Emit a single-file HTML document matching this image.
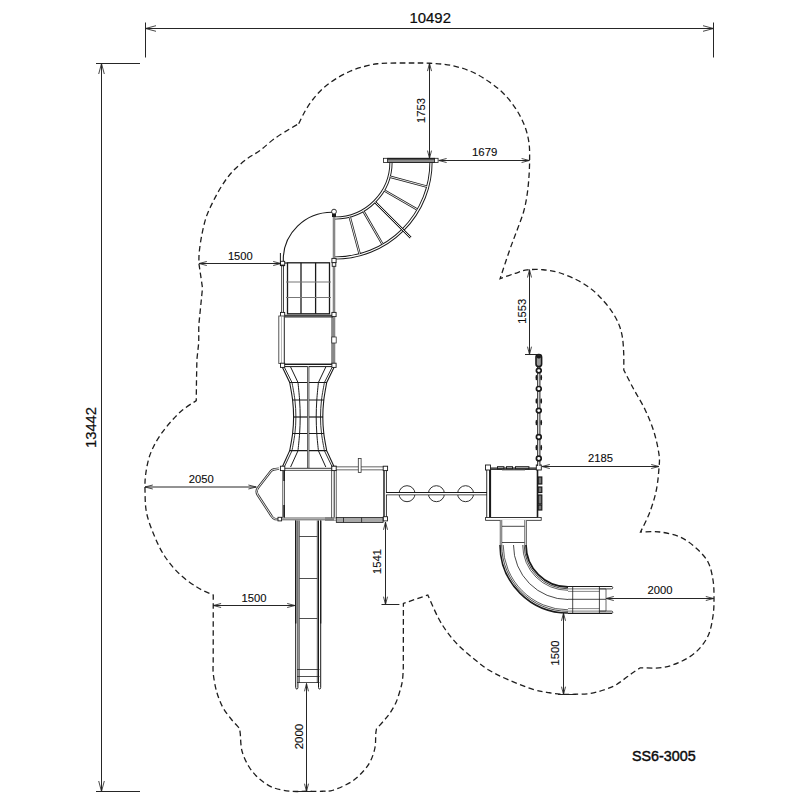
<!DOCTYPE html>
<html><head><meta charset="utf-8"><style>
html,body{margin:0;padding:0;background:#fff;width:800px;height:800px;overflow:hidden}
svg{display:block}
text{font-family:"Liberation Sans",sans-serif;fill:#0c0c0c;stroke:#0c0c0c}
.tx{opacity:0.995}
</style></head><body>
<svg width="800" height="800" viewBox="0 0 800 800">
<rect width="800" height="800" fill="#fff"/>
<line x1="145.5" y1="22.5" x2="145.5" y2="57.5" stroke="#262626" stroke-width="1"/>
<line x1="713.5" y1="22.5" x2="713.5" y2="57.5" stroke="#262626" stroke-width="1"/>
<line x1="145.5" y1="28.5" x2="713.5" y2="28.5" stroke="#262626" stroke-width="1"/>
<path d="M156 25.7 L145.5 28.5 L156 31.3" fill="none" stroke="#262626" stroke-width="0.85"/>
<path d="M703 31.3 L713.5 28.5 L703 25.7" fill="none" stroke="#262626" stroke-width="0.85"/>
<line x1="96" y1="63.5" x2="140" y2="63.5" stroke="#262626" stroke-width="1"/>
<line x1="96" y1="791.5" x2="140" y2="791.5" stroke="#262626" stroke-width="1"/>
<line x1="101.5" y1="63.5" x2="101.5" y2="791.5" stroke="#262626" stroke-width="1"/>
<path d="M104.3 74 L101.5 63.5 L98.7 74" fill="none" stroke="#262626" stroke-width="0.85"/>
<path d="M98.7 781 L101.5 791.5 L104.3 781" fill="none" stroke="#262626" stroke-width="0.85"/>
<line x1="429.5" y1="63.3" x2="429.5" y2="158.4" stroke="#262626" stroke-width="1"/>
<path d="M431.5 71.1 L429.5 63.3 L427.5 71.1" fill="none" stroke="#262626" stroke-width="0.85"/>
<path d="M427.5 150.6 L429.5 158.4 L431.5 150.6" fill="none" stroke="#262626" stroke-width="0.85"/>
<line x1="438.8" y1="160.5" x2="529.4" y2="160.5" stroke="#262626" stroke-width="1"/>
<path d="M446.6 158.5 L438.8 160.5 L446.6 162.5" fill="none" stroke="#262626" stroke-width="0.85"/>
<path d="M521.6 162.5 L529.4 160.5 L521.6 158.5" fill="none" stroke="#262626" stroke-width="0.85"/>
<line x1="199" y1="263.5" x2="281" y2="263.5" stroke="#262626" stroke-width="1"/>
<path d="M206.8 261.5 L199 263.5 L206.8 265.5" fill="none" stroke="#262626" stroke-width="0.85"/>
<path d="M273.2 265.5 L281 263.5 L273.2 261.5" fill="none" stroke="#262626" stroke-width="0.85"/>
<line x1="525" y1="354.5" x2="538" y2="354.5" stroke="#262626" stroke-width="1"/>
<line x1="529.5" y1="269.7" x2="529.5" y2="354.5" stroke="#262626" stroke-width="1"/>
<path d="M531.5 277.5 L529.5 269.7 L527.5 277.5" fill="none" stroke="#262626" stroke-width="0.85"/>
<path d="M527.5 346.7 L529.5 354.5 L531.5 346.7" fill="none" stroke="#262626" stroke-width="0.85"/>
<line x1="145" y1="487" x2="256.2" y2="487" stroke="#262626" stroke-width="1"/>
<path d="M152.8 485 L145 487 L152.8 489" fill="none" stroke="#262626" stroke-width="0.85"/>
<path d="M248.4 489 L256.2 487 L248.4 485" fill="none" stroke="#262626" stroke-width="0.85"/>
<line x1="542" y1="466.5" x2="659" y2="466.5" stroke="#262626" stroke-width="1"/>
<path d="M549.8 464.5 L542 466.5 L549.8 468.5" fill="none" stroke="#262626" stroke-width="0.85"/>
<path d="M651.2 468.5 L659 466.5 L651.2 464.5" fill="none" stroke="#262626" stroke-width="0.85"/>
<line x1="381.5" y1="604.5" x2="399.4" y2="604.5" stroke="#262626" stroke-width="1"/>
<line x1="385.5" y1="522" x2="385.5" y2="604.5" stroke="#262626" stroke-width="1"/>
<path d="M387.5 529.8 L385.5 522 L383.5 529.8" fill="none" stroke="#262626" stroke-width="0.85"/>
<path d="M383.5 596.7 L385.5 604.5 L387.5 596.7" fill="none" stroke="#262626" stroke-width="0.85"/>
<line x1="213.3" y1="605.5" x2="295" y2="605.5" stroke="#262626" stroke-width="1"/>
<path d="M221.1 603.5 L213.3 605.5 L221.1 607.5" fill="none" stroke="#262626" stroke-width="0.85"/>
<path d="M287.2 607.5 L295 605.5 L287.2 603.5" fill="none" stroke="#262626" stroke-width="0.85"/>
<line x1="606" y1="598.5" x2="713.6" y2="598.5" stroke="#262626" stroke-width="1"/>
<path d="M613.8 596.5 L606 598.5 L613.8 600.5" fill="none" stroke="#262626" stroke-width="0.85"/>
<path d="M705.8 600.5 L713.6 598.5 L705.8 596.5" fill="none" stroke="#262626" stroke-width="0.85"/>
<line x1="558" y1="694.5" x2="576" y2="694.5" stroke="#262626" stroke-width="1"/>
<line x1="563.5" y1="613" x2="563.5" y2="694.5" stroke="#262626" stroke-width="1"/>
<path d="M565.5 620.8 L563.5 613 L561.5 620.8" fill="none" stroke="#262626" stroke-width="0.85"/>
<path d="M561.5 686.7 L563.5 694.5 L565.5 686.7" fill="none" stroke="#262626" stroke-width="0.85"/>
<line x1="295.5" y1="791.5" x2="315.5" y2="791.5" stroke="#262626" stroke-width="1"/>
<line x1="306.5" y1="683.5" x2="306.5" y2="791.5" stroke="#262626" stroke-width="1"/>
<path d="M308.5 691.3 L306.5 683.5 L304.5 691.3" fill="none" stroke="#262626" stroke-width="0.85"/>
<path d="M304.5 783.7 L306.5 791.5 L308.5 783.7" fill="none" stroke="#262626" stroke-width="0.85"/>
<text class="tx" x="430.2" y="23" font-size="15.3" text-anchor="middle" stroke-width="0.22" textLength="41.5" lengthAdjust="spacingAndGlyphs">10492</text>
<text class="tx" x="96.4" y="427.5" font-size="15.3" text-anchor="middle" stroke-width="0.22" transform="rotate(-90 96.4 427.5)" textLength="41.1" lengthAdjust="spacingAndGlyphs">13442</text>
<text class="tx" x="484.7" y="156.1" font-size="11.5" text-anchor="middle" stroke-width="0.12" textLength="25.4" lengthAdjust="spacingAndGlyphs">1679</text>
<text class="tx" x="240.3" y="259.9" font-size="11.5" text-anchor="middle" stroke-width="0.12" textLength="24.8" lengthAdjust="spacingAndGlyphs">1500</text>
<text class="tx" x="201.25" y="483.1" font-size="11.5" text-anchor="middle" stroke-width="0.12" textLength="25" lengthAdjust="spacingAndGlyphs">2050</text>
<text class="tx" x="600.6" y="462.25" font-size="11.5" text-anchor="middle" stroke-width="0.12" textLength="25" lengthAdjust="spacingAndGlyphs">2185</text>
<text class="tx" x="254" y="601.9" font-size="11.5" text-anchor="middle" stroke-width="0.12" textLength="25" lengthAdjust="spacingAndGlyphs">1500</text>
<text class="tx" x="660" y="594.4" font-size="11.5" text-anchor="middle" stroke-width="0.12" textLength="25" lengthAdjust="spacingAndGlyphs">2000</text>
<text class="tx" x="425.4" y="110.4" font-size="11.5" text-anchor="middle" stroke-width="0.12" transform="rotate(-90 425.4 110.4)" textLength="25" lengthAdjust="spacingAndGlyphs">1753</text>
<text class="tx" x="525.6" y="311.3" font-size="11.5" text-anchor="middle" stroke-width="0.12" transform="rotate(-90 525.6 311.3)" textLength="25" lengthAdjust="spacingAndGlyphs">1553</text>
<text class="tx" x="381.1" y="561.5" font-size="11.5" text-anchor="middle" stroke-width="0.12" transform="rotate(-90 381.1 561.5)" textLength="25" lengthAdjust="spacingAndGlyphs">1541</text>
<text class="tx" x="559.3" y="652.9" font-size="11.5" text-anchor="middle" stroke-width="0.12" transform="rotate(-90 559.3 652.9)" textLength="25" lengthAdjust="spacingAndGlyphs">1500</text>
<text class="tx" x="303.3" y="736.6" font-size="11.5" text-anchor="middle" stroke-width="0.12" transform="rotate(-90 303.3 736.6)" textLength="25.4" lengthAdjust="spacingAndGlyphs">2000</text>
<text class="tx" x="632" y="760.6" font-size="14.6" text-anchor="start" stroke-width="0.45" textLength="63.7" lengthAdjust="spacingAndGlyphs">SS6-3005</text>
<path d="M298.75 123.75C299.79 121.67 302.71 115.21 305 111.25C307.29 107.29 309.58 103.75 312.5 100C315.42 96.25 318.75 92.18 322.5 88.75C326.25 85.32 330.42 82.32 335 79.4C339.58 76.48 345 73.44 350 71.25C355 69.06 360.42 67.5 365 66.25C369.58 65 373.54 64.28 377.5 63.75C381.46 63.23 383.33 63.23 388.75 63.1C394.17 62.98 403.12 62.98 410 63C416.88 63.02 423.23 62.87 430 63.25C436.77 63.63 443.73 63.92 450.6 65.3C457.48 66.67 464.83 68.75 471.25 71.5C477.67 74.25 483.6 78.02 489.1 81.8C494.6 85.58 499.67 89.5 504.25 94.2C508.83 98.9 513.16 104.62 516.6 110C520.04 115.38 522.83 121 524.9 126.5C526.97 132 528.22 137.48 529 143C529.78 148.52 529.6 154.06 529.6 159.6C529.6 165.14 529.39 170.56 529 176.25C528.61 181.94 528.12 187.92 527.25 193.75C526.38 199.58 525.36 205.42 523.75 211.25C522.14 217.08 519.93 222.33 517.6 228.75C515.27 235.17 512.67 241.44 509.75 249.75C506.83 258.06 501.71 273.79 500.1 278.6C502.58 277.73 510.48 274.85 515 273.4C519.52 271.95 522.58 270.51 527.25 269.9C531.92 269.29 537.62 269.27 543 269.75C548.38 270.23 553.75 271 559.5 272.75C565.25 274.5 572 277.38 577.5 280.25C583 283.12 588 286.38 592.5 290C597 293.62 601 298 604.5 302C608 306 611 310 613.5 314C616 318 618 322 619.5 326C621 330 621.8 333.5 622.5 338C623.2 342.5 623.48 347.67 623.7 353C623.92 358.33 623.78 367.17 623.8 370C625.46 373.21 630.22 382.67 633.75 389.25C637.28 395.83 641.62 402.38 645 409.5C648.38 416.62 651.67 424.5 654 432C656.33 439.5 658.17 448.5 659 454.5C659.83 460.5 659.46 462 659 468C658.54 474 657.83 483 656.25 490.5C654.67 498 652.12 506.08 649.5 513C646.88 519.92 642 528.83 640.5 532C643.75 532 653.42 531.17 660 532C666.58 532.83 674 534.33 680 537C686 539.67 691.33 543.83 696 548C700.67 552.17 705.17 556.67 708 562C710.83 567.33 712 574 713 580C714 586 714 592 714 598C714 604 714 609.67 713 616C712 622.33 710.83 630 708 636C705.17 642 700.67 647.67 696 652C691.33 656.33 685.67 659.4 680 662C674.33 664.6 668.62 666.63 662 667.6C655.38 668.57 643.88 667.77 640.25 667.8C638.88 668.71 634.88 671.22 632 673.25C629.12 675.28 626 677.88 623 680C620 682.12 617.5 684.25 614 686C610.5 687.75 606 689.25 602 690.5C598 691.75 594.5 692.88 590 693.5C585.5 694.12 579.5 694.12 575 694.25C570.5 694.38 567.25 694.5 563 694.25C558.75 694 554.5 693.58 549.5 692.75C544.5 691.92 540 691.52 533 689.3C526 687.07 514.88 682.62 507.5 679.4C500.12 676.18 494.38 673.44 488.75 670C483.12 666.56 478.75 662.82 473.75 658.75C468.75 654.68 463.12 649.98 458.75 645.6C454.38 641.23 450.94 637.18 447.5 632.5C444.06 627.82 441.38 623.75 438.1 617.5C434.82 611.25 429.52 598.75 427.8 595L403.4 603.4L403.3 668C403.17 670 402.97 676.5 402.5 680C402.03 683.5 401.58 685.25 400.5 689C399.42 692.75 397.75 698.5 396 702.5C394.25 706.5 392 710 390 713C388 716 386.25 717.88 384 720.5C381.75 723.12 377.75 727.38 376.5 728.75C376.38 729.62 376 730.88 375.75 734C375.5 737.12 375.88 743 375 747.5C374.12 752 372.5 757 370.5 761C368.5 765 366.25 768 363 771.5C359.75 775 356 778.88 351 782C346 785.12 337.75 788.71 333 790.25C328.25 791.79 326.88 791.08 322.5 791.25C318.12 791.42 312 791.25 306.75 791.25C301.5 791.25 296.54 791.83 291 791.25C285.46 790.67 278.75 789.79 273.5 787.75C268.25 785.71 263.58 782.5 259.5 779C255.42 775.5 251.92 771.42 249 766.75C246.08 762.08 243.46 756.54 242 751C240.54 745.46 240.68 737.29 240.25 733.5C239.82 729.71 239.54 729.12 239.4 728.25C238.08 726.79 234.28 723 231.5 719.5C228.72 716 225.23 711.92 222.75 707.25C220.27 702.58 218.17 697.04 216.6 691.5C215.03 685.96 213.87 678.92 213.3 674C212.73 669.08 213.22 664 213.2 662L213.25 595C210.62 593.75 203.12 591 197.5 587.5C191.88 584 185 579.25 179.5 574C174 568.75 168.75 562.5 164.5 556C160.25 549.5 157 542.25 154 535C151 527.75 148 520 146.5 512.5C145 505 145.15 496.25 145 490C144.85 483.75 144.97 480.21 145.6 475C146.22 469.79 147.39 463.54 148.75 458.75C150.11 453.96 151.67 450.42 153.75 446.25C155.83 442.08 158.33 437.92 161.25 433.75C164.17 429.58 167.71 425.21 171.25 421.25C174.79 417.29 178.33 413.44 182.5 410C186.67 406.56 193.96 402.17 196.25 400.6L196.5 380L196.9 359.4L198.75 342.5L198.75 325.6L202.5 288L198.9 263.4C198.96 261.5 198.75 256.82 199.25 252C199.75 247.18 200.73 240.33 201.9 234.5C203.07 228.67 204.36 222.54 206.25 217C208.14 211.46 210.62 206.5 213.25 201.25C215.88 196 218.79 190.46 222 185.5C225.21 180.54 228.42 175.88 232.5 171.5C236.58 167.12 241.92 162.75 246.5 159.25C251.08 155.75 255.42 153.88 260 150.5C264.58 147.12 269 142.62 274 139C279 135.38 285.88 131.29 290 128.75C294.12 126.21 297.29 124.58 298.75 123.75Z" fill="none" stroke="#1e1e1e" stroke-width="1.3" stroke-dasharray="5.6 3.4"/>
<path d="M431 162 A96 96 0 0 1 335 258" fill="none" stroke="#1a1a1a" stroke-width="3.2"/>
<path d="M431 162 A96 96 0 0 1 335 258" fill="none" stroke="#fff" stroke-width="1.3"/>
<path d="M391 162 A56 56 0 0 1 335 218" fill="none" stroke="#1a1a1a" stroke-width="3.2"/>
<path d="M391 162 A56 56 0 0 1 335 218" fill="none" stroke="#fff" stroke-width="1.3"/>
<path d="M390.06 176.75 L426.76 186.59" fill="none" stroke="#1a1a1a" stroke-width="2.4"/>
<path d="M390.06 176.75 L426.76 186.59" fill="none" stroke="#fff" stroke-width="0.9"/>
<path d="M384.36 190.5 L417.27 209.5" fill="none" stroke="#1a1a1a" stroke-width="2.4"/>
<path d="M384.36 190.5 L417.27 209.5" fill="none" stroke="#fff" stroke-width="0.9"/>
<path d="M363.5 211.36 L382.5 244.27" fill="none" stroke="#1a1a1a" stroke-width="2.4"/>
<path d="M363.5 211.36 L382.5 244.27" fill="none" stroke="#fff" stroke-width="0.9"/>
<path d="M349.75 217.06 L359.59 253.76" fill="none" stroke="#1a1a1a" stroke-width="2.4"/>
<path d="M349.75 217.06 L359.59 253.76" fill="none" stroke="#fff" stroke-width="0.9"/>
<path d="M375.31 202.31 L410.66 237.66" fill="none" stroke="#1a1a1a" stroke-width="2.4"/>
<path d="M375.31 202.31 L410.66 237.66" fill="none" stroke="#fff" stroke-width="0.9"/>
<rect x="383.4" y="158.3" width="54.7" height="4.1" fill="#fff" stroke="#1a1a1a" stroke-width="0.8"/>
<rect x="387.6" y="158.3" width="47" height="4.1" fill="#8a8a8a" stroke="#1a1a1a" stroke-width="0.8"/>
<line x1="387.6" y1="158.9" x2="434.6" y2="158.9" stroke="#1a1a1a" stroke-width="1.4"/>
<path d="M283.3 262 L283.3 259.5 A48.6 47.3 0 0 1 331.9 212.2" fill="none" stroke="#1a1a1a" stroke-width="1.1"/>
<circle cx="334" cy="211.6" r="2.4" fill="#fff" stroke="#1a1a1a" stroke-width="0.9"/>
<path d="M282.6 263 L282.6 316" fill="none" stroke="#1a1a1a" stroke-width="2.6"/>
<path d="M282.6 263 L282.6 316" fill="none" stroke="#fff" stroke-width="1"/>
<path d="M334 214 L334 316" fill="none" stroke="#555" stroke-width="2.4"/>
<path d="M334 214 L334 316" fill="none" stroke="#fff" stroke-width="0.6"/>
<rect x="287.5" y="262.8" width="42" height="51" fill="none" stroke="#1a1a1a" stroke-width="1.3"/>
<line x1="301" y1="262.8" x2="301" y2="313.8" stroke="#1a1a1a" stroke-width="1.3"/>
<line x1="315.6" y1="262.8" x2="315.6" y2="313.8" stroke="#1a1a1a" stroke-width="1.3"/>
<line x1="286" y1="282" x2="331" y2="282" stroke="#777" stroke-width="1.2"/>
<line x1="286" y1="297.5" x2="331" y2="297.5" stroke="#777" stroke-width="1.2"/>
<line x1="282.6" y1="315.3" x2="334" y2="315.3" stroke="#1a1a1a" stroke-width="1"/>
<line x1="282.6" y1="317" x2="334" y2="317" stroke="#1a1a1a" stroke-width="1"/>
<rect x="280.5" y="261.3" width="4.2" height="4.2" fill="#fff" stroke="#1a1a1a" stroke-width="0.9"/>
<rect x="331.9" y="258.4" width="4.2" height="4.2" fill="#fff" stroke="#1a1a1a" stroke-width="0.9"/>
<rect x="332.2" y="262.7" width="3.6" height="3.6" fill="#fff" stroke="#1a1a1a" stroke-width="0.9"/>
<line x1="280.4" y1="253" x2="280.4" y2="266" stroke="#1a1a1a" stroke-width="1"/>
<rect x="280.6" y="264.6" width="4" height="1.6" fill="#1a1a1a"/>
<line x1="284.8" y1="263" x2="287.5" y2="263" stroke="#1a1a1a" stroke-width="1.2"/>
<rect x="280.5" y="312.4" width="4.2" height="4.2" fill="#fff" stroke="#1a1a1a" stroke-width="0.9"/>
<rect x="331.9" y="312.4" width="4.2" height="4.2" fill="#fff" stroke="#1a1a1a" stroke-width="0.9"/>
<rect x="332" y="214" width="4" height="3" fill="#1a1a1a"/>
<rect x="284.4" y="317" width="47.6" height="47" fill="#fff" stroke="#1a1a1a" stroke-width="0.9"/>
<rect x="278.8" y="316" width="5.4" height="47.5" fill="#fff" stroke="#444" stroke-width="0.9"/>
<line x1="281.5" y1="316" x2="281.5" y2="363.5" stroke="#999" stroke-width="0.7"/>
<path d="M334 317 L334 364" fill="none" stroke="#555" stroke-width="2.4"/>
<path d="M334 317 L334 364" fill="none" stroke="#fff" stroke-width="0.6"/>
<rect x="331.8" y="337" width="4.4" height="6" fill="#fff" stroke="#1a1a1a" stroke-width="0.7"/>
<line x1="282.6" y1="364.5" x2="334" y2="364.5" stroke="#1a1a1a" stroke-width="1.2"/>
<line x1="282.6" y1="366.6" x2="334" y2="366.6" stroke="#1a1a1a" stroke-width="1"/>
<rect x="280.5" y="363.2" width="4.2" height="4.2" fill="#fff" stroke="#1a1a1a" stroke-width="0.9"/>
<rect x="331.9" y="363.2" width="4.2" height="4.2" fill="#fff" stroke="#1a1a1a" stroke-width="0.9"/>
<path d="M282.5 367.5 L289.7 382.5C290.18 385.42 291.95 394.25 292.6 400C293.25 405.75 293.6 411.42 293.6 417C293.6 422.58 293.25 427.88 292.6 433.5C291.95 439.12 290.18 447.83 289.7 450.7 L282.5 466.5" fill="none" stroke="#1a1a1a" stroke-width="1.1"/>
<path d="M284.5 367.5 L292 382.5C292.48 385.42 294.25 394.25 294.9 400C295.55 405.75 295.9 411.42 295.9 417C295.9 422.58 295.55 427.88 294.9 433.5C294.25 439.12 292.48 447.83 292 450.7 L284.5 466.5" fill="none" stroke="#1a1a1a" stroke-width="0.9"/>
<path d="M334 367.5 L326.7 382.5C326.22 385.42 324.45 394.25 323.8 400C323.15 405.75 322.8 411.42 322.8 417C322.8 422.58 323.15 427.88 323.8 433.5C324.45 439.12 326.22 447.83 326.7 450.7 L334 466.5" fill="none" stroke="#1a1a1a" stroke-width="1.1"/>
<path d="M332 367.5 L324.4 382.5C323.92 385.42 322.15 394.25 321.5 400C320.85 405.75 320.5 411.42 320.5 417C320.5 422.58 320.85 427.88 321.5 433.5C322.15 439.12 323.92 447.83 324.4 450.7 L332 466.5" fill="none" stroke="#1a1a1a" stroke-width="0.9"/>
<path d="M290.6 367 L298 382.5C298.27 385.42 299.23 394.25 299.6 400C299.97 405.75 300.2 411.42 300.2 417C300.2 422.58 299.97 427.88 299.6 433.5C299.23 439.12 298.27 447.83 298 450.7 L290.6 467" fill="none" stroke="#1a1a1a" stroke-width="1"/>
<path d="M325.8 367 L318.4 382.5C318.13 385.42 317.17 394.25 316.8 400C316.43 405.75 316.2 411.42 316.2 417C316.2 422.58 316.43 427.88 316.8 433.5C317.17 439.12 318.13 447.83 318.4 450.7 L325.8 467" fill="none" stroke="#1a1a1a" stroke-width="1"/>
<line x1="289.4" y1="382.5" x2="327" y2="382.5" stroke="#1a1a1a" stroke-width="1.2"/>
<line x1="292.3" y1="400" x2="324.1" y2="400" stroke="#1a1a1a" stroke-width="1.2"/>
<line x1="293.3" y1="417" x2="323.1" y2="417" stroke="#1a1a1a" stroke-width="1.2"/>
<line x1="292.3" y1="433.5" x2="324.1" y2="433.5" stroke="#1a1a1a" stroke-width="1.2"/>
<line x1="289.4" y1="450.7" x2="327" y2="450.7" stroke="#1a1a1a" stroke-width="1.2"/>
<path d="M308.2 366 L308.2 468" fill="none" stroke="#1a1a1a" stroke-width="2.2"/>
<path d="M308.2 366 L308.2 468" fill="none" stroke="#fff" stroke-width="0.8"/>
<rect x="331.9" y="466.3" width="4.2" height="4.2" fill="#fff" stroke="#1a1a1a" stroke-width="0.9"/>
<line x1="284" y1="468.3" x2="334" y2="468.3" stroke="#222" stroke-width="0.9"/>
<line x1="284" y1="470.4" x2="334" y2="470.4" stroke="#333" stroke-width="0.8"/>
<line x1="280" y1="518" x2="334" y2="518" stroke="#333" stroke-width="0.8"/>
<line x1="280" y1="519.8" x2="334" y2="519.8" stroke="#333" stroke-width="0.8"/>
<line x1="282.7" y1="470" x2="282.7" y2="518" stroke="#444" stroke-width="0.8"/>
<line x1="284.4" y1="470" x2="284.4" y2="518" stroke="#333" stroke-width="0.9"/>
<line x1="284.1" y1="471" x2="284.1" y2="481" stroke="#1a1a1a" stroke-width="1.6"/>
<line x1="284.1" y1="505" x2="284.1" y2="517" stroke="#1a1a1a" stroke-width="1.6"/>
<line x1="331.6" y1="470" x2="331.6" y2="518" stroke="#333" stroke-width="0.8"/>
<path d="M279 468.6 L273.5 469.5 Q272 470 271 471 L257.6 488.3 Q255.6 491.5 257.8 495 L271.5 516 Q273 518.5 275 519 L280 519.2" fill="none" stroke="#333" stroke-width="2.4"/>
<path d="M279 468.6 L273.5 469.5 Q272 470 271 471 L257.6 488.3 Q255.6 491.5 257.8 495 L271.5 516 Q273 518.5 275 519 L280 519.2" fill="none" stroke="#fff" stroke-width="0.9"/>
<rect x="280.4" y="466.2" width="4.4" height="4.4" fill="#fff" stroke="#1a1a1a" stroke-width="0.9"/>
<rect x="278" y="517.3" width="3.6" height="3.6" fill="#fff" stroke="#1a1a1a" stroke-width="0.9"/>
<path d="M332 468.4 L387.4 468.4" fill="none" stroke="#333" stroke-width="3.8"/>
<path d="M332 468.4 L387.4 468.4" fill="none" stroke="#fff" stroke-width="2.2"/>
<line x1="334.2" y1="470.5" x2="334.2" y2="517.5" stroke="#222" stroke-width="1"/>
<line x1="336.3" y1="470.5" x2="336.3" y2="517.5" stroke="#444" stroke-width="0.8"/>
<path d="M385.2 470 L385.2 518" fill="none" stroke="#333" stroke-width="3.4"/>
<path d="M385.2 470 L385.2 518" fill="none" stroke="#fff" stroke-width="1.5"/>
<line x1="384" y1="471" x2="384" y2="517" stroke="#1a1a1a" stroke-width="1"/>
<rect x="358.3" y="458.5" width="2.8" height="14" fill="#fff" stroke="#333" stroke-width="0.8"/>
<rect x="336.3" y="517.6" width="46.8" height="4.8" fill="#a8a8a8" stroke="#1a1a1a" stroke-width="0.8"/>
<line x1="343.5" y1="517.6" x2="343.5" y2="522.4" stroke="#1a1a1a" stroke-width="0.8"/>
<line x1="361.6" y1="517.6" x2="361.6" y2="522.4" stroke="#1a1a1a" stroke-width="0.8"/>
<line x1="325" y1="518" x2="336" y2="518" stroke="#444" stroke-width="0.7"/>
<line x1="325" y1="520.2" x2="336" y2="520.2" stroke="#444" stroke-width="0.7"/>
<rect x="331.8" y="466.2" width="4.4" height="4.4" fill="#fff" stroke="#1a1a1a" stroke-width="0.9"/>
<rect x="383.2" y="466.2" width="4.4" height="4.4" fill="#fff" stroke="#1a1a1a" stroke-width="0.9"/>
<rect x="383.3" y="516.7" width="4.2" height="4.2" fill="#fff" stroke="#1a1a1a" stroke-width="0.9"/>
<path d="M295.7 520.5 L295.7 687.5 Q295.7 689 296.8 689 Q297.9 689 297.9 687.5 L297.9 520.5" fill="none" stroke="#1a1a1a" stroke-width="1"/>
<line x1="299.3" y1="520.5" x2="299.3" y2="683" stroke="#333" stroke-width="0.8"/>
<path d="M320.7 520.5 L320.7 687.5 Q320.7 689 319.6 689 Q318.5 689 318.5 687.5 L318.5 520.5" fill="none" stroke="#1a1a1a" stroke-width="1"/>
<line x1="317.3" y1="520.5" x2="317.3" y2="683" stroke="#333" stroke-width="0.8"/>
<line x1="295.7" y1="520.5" x2="295.7" y2="623.5" stroke="#1a1a1a" stroke-width="1.4"/>
<line x1="320.7" y1="520.5" x2="320.7" y2="623.5" stroke="#1a1a1a" stroke-width="1.2"/>
<line x1="299.3" y1="536.5" x2="317.3" y2="536.5" stroke="#222" stroke-width="0.8"/>
<line x1="299.3" y1="578.5" x2="317.3" y2="578.5" stroke="#222" stroke-width="0.8"/>
<line x1="299.3" y1="618.5" x2="317.3" y2="618.5" stroke="#222" stroke-width="0.8"/>
<line x1="297" y1="669.5" x2="319.5" y2="669.5" stroke="#222" stroke-width="0.8"/>
<line x1="297" y1="676.5" x2="319.5" y2="676.5" stroke="#222" stroke-width="0.8"/>
<line x1="297" y1="682.5" x2="319.5" y2="682.5" stroke="#222" stroke-width="0.8"/>
<circle cx="407" cy="493.7" r="8" fill="none" stroke="#1a1a1a" stroke-width="0.9"/>
<circle cx="436.4" cy="493.7" r="8" fill="none" stroke="#1a1a1a" stroke-width="0.9"/>
<circle cx="465.6" cy="493.7" r="8" fill="none" stroke="#1a1a1a" stroke-width="0.9"/>
<path d="M386 493.7 L487.5 493.7" fill="none" stroke="#1a1a1a" stroke-width="3.2"/>
<path d="M386 493.7 L487.5 493.7" fill="none" stroke="#fff" stroke-width="1.4"/>
<rect x="490" y="469.4" width="47.5" height="48.2" fill="#fff" stroke="#1a1a1a" stroke-width="0.9"/>
<line x1="490" y1="468.2" x2="538" y2="468.2" stroke="#1a1a1a" stroke-width="1.3"/>
<path d="M488.1 468 L488.1 519" fill="none" stroke="#1a1a1a" stroke-width="3.6"/>
<path d="M488.1 468 L488.1 519" fill="none" stroke="#fff" stroke-width="1.8"/>
<line x1="490.5" y1="470" x2="490.5" y2="517" stroke="#1a1a1a" stroke-width="1.2"/>
<rect x="485.6" y="517.5" width="55.6" height="2.8" fill="#fff" stroke="#1a1a1a" stroke-width="0.8"/>
<rect x="485.5" y="465" width="5" height="5" fill="#fff" stroke="#1a1a1a" stroke-width="0.9"/>
<rect x="497" y="466.2" width="7.4" height="3.2" fill="#1a1a1a"/>
<rect x="498" y="467.2" width="5.4" height="1" fill="#bbb"/>
<rect x="506" y="466.2" width="7" height="3.2" fill="#1a1a1a"/>
<rect x="507" y="467.2" width="5" height="1" fill="#bbb"/>
<rect x="515" y="466.2" width="14.4" height="3.2" fill="#1a1a1a"/>
<rect x="516" y="467.2" width="12.4" height="1" fill="#bbb"/>
<line x1="502" y1="470.2" x2="525" y2="470.2" stroke="#888" stroke-width="0.8"/>
<line x1="537.5" y1="470" x2="537.5" y2="517" stroke="#1a1a1a" stroke-width="1.6"/>
<rect x="538.2" y="477" width="3.6" height="7" fill="#777" stroke="#1a1a1a" stroke-width="1.2"/>
<rect x="538.2" y="487" width="3.6" height="5.5" fill="#777" stroke="#1a1a1a" stroke-width="1.2"/>
<rect x="538.2" y="495" width="3.6" height="9" fill="#777" stroke="#1a1a1a" stroke-width="1.2"/>
<rect x="538.2" y="505" width="3.6" height="5" fill="#777" stroke="#1a1a1a" stroke-width="1.2"/>
<rect x="536.3" y="465" width="5" height="5" fill="#fff" stroke="#1a1a1a" stroke-width="0.9"/>
<path d="M538.8 360 L538.8 466" fill="none" stroke="#1a1a1a" stroke-width="3.2"/>
<path d="M538.8 360 L538.8 466" fill="none" stroke="#fff" stroke-width="1.2"/>
<rect x="536" y="354.6" width="5.6" height="12" rx="2.6" fill="#9a9a9a" stroke="#1a1a1a" stroke-width="1.6"/>
<rect x="536.6" y="355.2" width="4.4" height="3.2" rx="1.6" fill="#1a1a1a"/>
<ellipse cx="538.8" cy="370.6" rx="2.4" ry="2.3" fill="#fff" stroke="#1a1a1a" stroke-width="1.7"/>
<ellipse cx="538.8" cy="388.8" rx="2.4" ry="2.3" fill="#fff" stroke="#1a1a1a" stroke-width="1.7"/>
<ellipse cx="538.8" cy="410.6" rx="2.4" ry="2.3" fill="#fff" stroke="#1a1a1a" stroke-width="1.7"/>
<ellipse cx="538.8" cy="437" rx="2.4" ry="2.3" fill="#fff" stroke="#1a1a1a" stroke-width="1.7"/>
<ellipse cx="538.8" cy="458.5" rx="2.4" ry="2.3" fill="#fff" stroke="#1a1a1a" stroke-width="1.7"/>
<ellipse cx="536.4" cy="377.5" rx="0.9" ry="2.8" fill="#1a1a1a"/>
<ellipse cx="541.2" cy="377.5" rx="0.9" ry="2.8" fill="#1a1a1a"/>
<ellipse cx="536.4" cy="401" rx="0.9" ry="2.8" fill="#1a1a1a"/>
<ellipse cx="541.2" cy="401" rx="0.9" ry="2.8" fill="#1a1a1a"/>
<ellipse cx="536.4" cy="422.5" rx="0.9" ry="2.8" fill="#1a1a1a"/>
<ellipse cx="541.2" cy="422.5" rx="0.9" ry="2.8" fill="#1a1a1a"/>
<ellipse cx="536.4" cy="447.5" rx="0.9" ry="2.8" fill="#1a1a1a"/>
<ellipse cx="541.2" cy="447.5" rx="0.9" ry="2.8" fill="#1a1a1a"/>
<rect x="500" y="520" width="26.6" height="25" fill="#fff" stroke="none" stroke-width="0"/>
<path d="M501 520 L501 545" fill="none" stroke="#444" stroke-width="2.4"/>
<path d="M501 520 L501 545" fill="none" stroke="#fff" stroke-width="0.8"/>
<path d="M525.6 520 L525.6 545" fill="none" stroke="#444" stroke-width="2.4"/>
<path d="M525.6 520 L525.6 545" fill="none" stroke="#fff" stroke-width="0.8"/>
<line x1="502" y1="526.3" x2="524.5" y2="526.3" stroke="#1a1a1a" stroke-width="0.8"/>
<line x1="502" y1="542.5" x2="524.5" y2="542.5" stroke="#1a1a1a" stroke-width="0.8"/>
<path d="M500 545 A68 68 0 0 0 568 613" fill="none" stroke="#1a1a1a" stroke-width="1.6"/>
<path d="M501.7 545 A66.3 66.3 0 0 0 568 611.3" fill="none" stroke="#1a1a1a" stroke-width="0.8"/>
<path d="M503.2 545 A64.8 64.8 0 0 0 568 609.8" fill="none" stroke="#1a1a1a" stroke-width="0.7"/>
<path d="M513.5 545 A54.5 54.5 0 0 0 568 599.5" fill="none" stroke="#1a1a1a" stroke-width="0.8"/>
<path d="M526 545 A42 42 0 0 0 568 587" fill="none" stroke="#1a1a1a" stroke-width="1.8"/>
<path d="M524.2 545 A43.8 43.8 0 0 0 568 588.8" fill="none" stroke="#1a1a1a" stroke-width="0.8"/>
<path d="M522.7 545 A45.3 45.3 0 0 0 568 590.3" fill="none" stroke="#1a1a1a" stroke-width="0.7"/>
<line x1="568" y1="586.5" x2="612" y2="586.5" stroke="#1a1a1a" stroke-width="1"/>
<line x1="568" y1="588.9" x2="606" y2="588.9" stroke="#444" stroke-width="0.7"/>
<line x1="568" y1="591.4" x2="599.4" y2="591.4" stroke="#555" stroke-width="0.7"/>
<line x1="568" y1="599.3" x2="606" y2="599.3" stroke="#1a1a1a" stroke-width="0.8"/>
<line x1="568" y1="608.6" x2="599.4" y2="608.6" stroke="#555" stroke-width="0.7"/>
<line x1="568" y1="611.1" x2="606" y2="611.1" stroke="#444" stroke-width="0.7"/>
<line x1="568" y1="613.4" x2="612" y2="613.4" stroke="#1a1a1a" stroke-width="1.1"/>
<line x1="572.7" y1="587" x2="572.7" y2="613" stroke="#1a1a1a" stroke-width="0.8"/>
<line x1="599.4" y1="587" x2="599.4" y2="613" stroke="#1a1a1a" stroke-width="0.8"/>
<line x1="606" y1="589" x2="606" y2="611" stroke="#444" stroke-width="0.8"/>
<path d="M599.4 586.5 L611.5 586.5 Q612.8 586.5 612.8 587.7 Q612.8 588.9 611.5 588.9 L599.4 588.9" fill="none" stroke="#1a1a1a" stroke-width="0.8"/>
<path d="M599.4 611.1 L611.5 611.1 Q612.8 611.1 612.8 612.3 Q612.8 613.4 611.5 613.4 L599.4 613.4" fill="none" stroke="#1a1a1a" stroke-width="0.8"/>
</svg></body></html>
